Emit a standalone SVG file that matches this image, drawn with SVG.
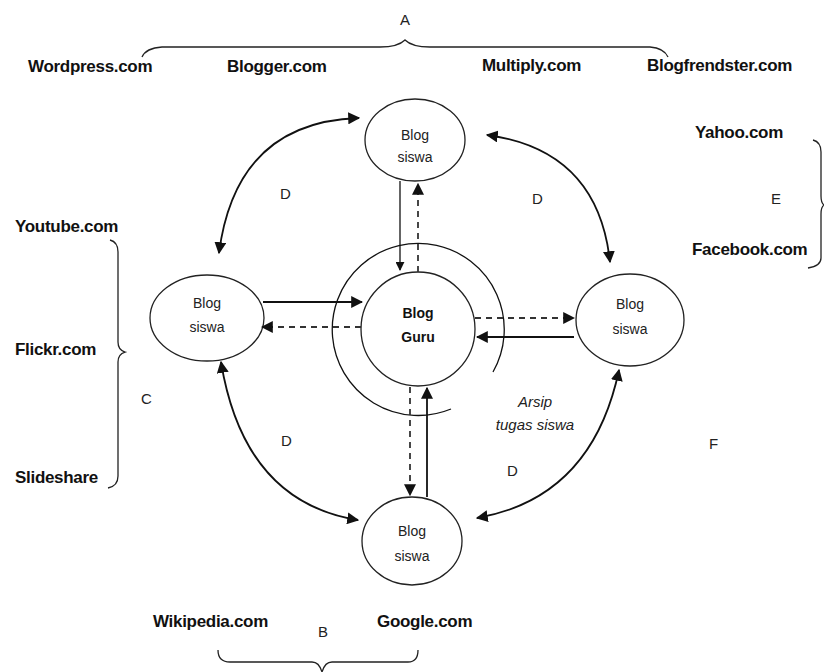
<svg xmlns="http://www.w3.org/2000/svg" width="824" height="672" viewBox="0 0 824 672">
<style>
.lbl{font-family:"Liberation Sans",Arial,sans-serif;font-size:17px;font-weight:bold;fill:#111;letter-spacing:-0.3px}
.let{font-family:"Liberation Sans",Arial,sans-serif;font-size:15px;fill:#222}
.nt{font-family:"Liberation Sans",Arial,sans-serif;font-size:14px;fill:#222;text-anchor:middle}
.ntb{font-family:"Liberation Sans",Arial,sans-serif;font-size:14px;font-weight:bold;fill:#111;text-anchor:middle}
.it{font-family:"Liberation Sans",Arial,sans-serif;font-size:15px;font-style:italic;fill:#222;text-anchor:middle}
.node{fill:#fff;stroke:#222;stroke-width:1.3}
.sol{fill:none;stroke:#111;stroke-width:1.8}
.thin{fill:none;stroke:#111;stroke-width:1.3}
.dash{fill:none;stroke:#333;stroke-width:1.8;stroke-dasharray:6,5}
.br{fill:none;stroke:#222;stroke-width:1.3}
</style>
<defs>
<marker id="ah" viewBox="0 0 10 10" refX="9" refY="5" markerWidth="9" markerHeight="9" markerUnits="userSpaceOnUse" orient="auto-start-reverse">
<path d="M0,0 L10,5 L0,10 z" fill="#111"/>
</marker>
<marker id="ahb" viewBox="0 0 10 10" refX="9" refY="5" markerWidth="12" markerHeight="12" markerUnits="userSpaceOnUse" orient="auto-start-reverse">
<path d="M0,0 L10,5 L0,10 z" fill="#111"/>
</marker>
</defs>
<rect width="824" height="672" fill="#fff"/>

<g id="labels">
<text class="let" x="400" y="25">A</text>
<text class="lbl" x="28" y="72">Wordpress.com</text>
<text class="lbl" x="227" y="72">Blogger.com</text>
<text class="lbl" x="482" y="71">Multiply.com</text>
<text class="lbl" x="647" y="71">Blogfrendster.com</text>
<text class="lbl" x="695" y="138">Yahoo.com</text>
<text class="lbl" x="692" y="255">Facebook.com</text>
<text class="let" x="771" y="204">E</text>
<text class="lbl" x="15" y="232">Youtube.com</text>
<text class="lbl" x="15" y="355">Flickr.com</text>
<text class="lbl" x="15" y="483">Slideshare</text>
<text class="let" x="141" y="404">C</text>
<text class="let" x="709" y="449">F</text>
<text class="lbl" x="153" y="627">Wikipedia.com</text>
<text class="lbl" x="377" y="627">Google.com</text>
<text class="let" x="318" y="637">B</text>
<text class="let" x="280" y="199">D</text>
<text class="let" x="532" y="204">D</text>
<text class="let" x="281" y="446">D</text>
<text class="let" x="507" y="476">D</text>
<text class="it" x="535" y="407">Arsip</text>
<text class="it" x="535" y="430">tugas siswa</text>
</g>

<g id="braces">
<path class="br" d="M142,57 Q146,48 162,47 L380,47 Q398,47 405,40 Q412,47 430,47 L650,47 Q664,48 668,57"/>
<path class="br" d="M110,240 Q118,242 118,252 L118,342 Q118,350 125,352 Q118,354 118,362 L118,476 Q118,486 108,488"/>
<path class="br" d="M813,140 Q821,142 821,152 L821,196 Q821,203 824,205 Q821,207 821,214 L821,258 Q821,266 808,268"/>
<path class="br" d="M218,650 Q218,662 230,662 L312,662 Q319,662 322,672 Q325,662 332,662 L408,662 Q418,662 418,650"/>
</g>

<g id="guru">
<path class="thin" d="M493,372 A86,86 0 1 0 451,409"/>
<circle class="node" cx="418" cy="329" r="57"/>
<text class="ntb" x="418" y="318">Blog</text>
<text class="ntb" x="418" y="342">Guru</text>
</g>

<g id="siswa-top">
<ellipse class="node" cx="415" cy="140" rx="50" ry="41"/>
<text class="nt" x="415" y="140">Blog</text>
<text class="nt" x="415" y="162">siswa</text>
</g>
<g id="siswa-left">
<ellipse class="node" cx="207" cy="318" rx="57" ry="43"/>
<text class="nt" x="207" y="308">Blog</text>
<text class="nt" x="207" y="332">siswa</text>
</g>
<g id="siswa-right">
<ellipse class="node" cx="630" cy="320" rx="54" ry="46"/>
<text class="nt" x="630" y="309">Blog</text>
<text class="nt" x="630" y="334">siswa</text>
</g>
<g id="siswa-bottom">
<ellipse class="node" cx="412" cy="541" rx="50" ry="44"/>
<text class="nt" x="412" y="536">Blog</text>
<text class="nt" x="412" y="561">siswa</text>
</g>

<g id="connectors">
<path class="thin" d="M400,181 L400,270" marker-end="url(#ah)"/>
<path class="dash" d="M418,272 L418,184" marker-end="url(#ahb)"/>
<path class="sol" d="M263,302 L362,302" marker-end="url(#ahb)"/>
<path class="dash" d="M361,327 L262,327" marker-end="url(#ahb)"/>
<path class="dash" d="M475,318 L574,318" marker-end="url(#ahb)"/>
<path class="sol" d="M574,337 L477,337" marker-end="url(#ahb)"/>
<path class="dash" d="M410,387 L410,495" marker-end="url(#ahb)"/>
<path class="sol" d="M427,497 L427,388" marker-end="url(#ahb)"/>
<path class="sol" d="M359,118 Q236,122 219,253" marker-start="url(#ahb)" marker-end="url(#ahb)"/>
<path class="sol" d="M487,135 Q598,150 610,262" marker-start="url(#ahb)" marker-end="url(#ahb)"/>
<path class="sol" d="M221,362 Q244,502 358,520" marker-start="url(#ahb)" marker-end="url(#ahb)"/>
<path class="sol" d="M619,370 Q592,498 477,518" marker-start="url(#ahb)" marker-end="url(#ahb)"/>
</g>
</svg>
